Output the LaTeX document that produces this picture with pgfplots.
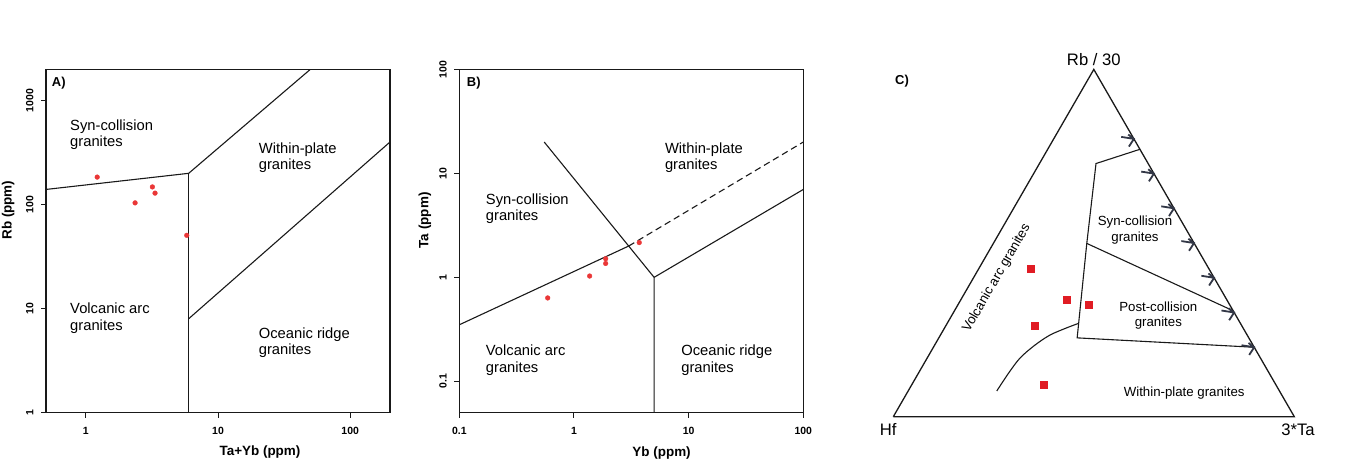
\documentclass[border=0pt]{standalone}
\usepackage{fontspec}
\setmainfont{Liberation Sans}
\usepackage{pgfplots}
\pgfplotsset{compat=1.18}
\definecolor{pt}{RGB}{234,55,55}
\definecolor{ptc}{RGB}{224,28,36}
\definecolor{ln}{RGB}{25,25,25}
\definecolor{arr}{RGB}{50,55,70}
\newcommand\reglab{\fontsize{14.8}{16.6}\selectfont}
\newcommand\reglabc{\fontsize{13.3}{15.7}\selectfont}
\newcommand\panlab{\fontsize{13}{15}\selectfont\bfseries}
\pgfdeclareplotmark{tarrow}{%
  \pgfpathmoveto{\pgfpoint{-12.7bp}{2bp}}\pgfpathlineto{\pgfpoint{0bp}{0bp}}%
  \pgfpathmoveto{\pgfpoint{-5.7bp}{4.3bp}}\pgfpathlineto{\pgfpoint{0bp}{0bp}}%
  \pgfpathlineto{\pgfpoint{-5bp}{-7.7bp}}%
  \pgfusepathqstroke}
\pgfplotsset{/pgf/number format/assume math mode=true}
\pgfplotsset{
  diag/.style={
    scale only axis,
    xminorticks=false, yminorticks=false, tick pos=left, tick align=outside,
    major tick length=5bp,
    axis line style={ln, line width=1.3bp},
    every tick/.style={ln, line width=1bp},
    tick label style={font=\fontsize{10.5}{12}\selectfont\bfseries},
    label style={font=\fontsize{13.5}{16}\selectfont\bfseries},
    xticklabel style={inner sep=0pt, anchor=north},
    yticklabel style={inner sep=0pt, rotate=90, anchor=south},
    xticklabel shift=9bp, yticklabel shift=7.4bp,
  },
  reg/.style={ln, line width=1.1bp, no marks},
  dots/.style={only marks, color=pt, mark=*, mark size=2.4bp, mark options={draw=pt, fill=pt, line width=0.3bp}},
}
\begin{document}
\begin{tikzpicture}
\useasboundingbox (0,0) rectangle (1348bp,463bp);
% ---------------- Panel A ----------------
\begin{loglogaxis}[diag, at={(46bp,50.3bp)}, anchor=south west,
  width=344bp, height=343.4bp,
  xmin=0.5, xmax=200, ymin=1, ymax=2000,
  xtick={1,10,100}, xticklabels={1,10,100},
  ytick={1,10,100,1000}, yticklabels={1,10,100,1000},
  xlabel={Ta+Yb (ppm)}, ylabel={Rb (ppm)},
  xlabel style={at={(axis description cs:0.622,-0.114)}, anchor=center},
  ylabel style={at={(axis description cs:-0.11,0.59)}, anchor=center},
]
\addplot[reg] coordinates {(0.5,140) (6,200) (50,2000)};
\addplot[reg] coordinates {(6,1) (6,200)};
\addplot[reg] coordinates {(6,8) (200,400)};
\addplot[dots] coordinates {(1.22,184) (2.36,104) (3.19,148) (3.34,129) (5.8,50.7)};
\node[anchor=west, align=left, inner sep=0pt, font=\reglab] at (axis cs:0.76,470) {Syn-collision\\granites};
\node[anchor=west, align=left, inner sep=0pt, font=\reglab] at (axis cs:20.3,284) {Within-plate\\granites};
\node[anchor=west, align=left, inner sep=0pt, font=\reglab] at (axis cs:0.76,8.1) {Volcanic arc\\granites};
\node[anchor=west, align=left, inner sep=0pt, font=\reglab] at (axis cs:20.3,4.7) {Oceanic ridge\\granites};
\node[anchor=north west, inner sep=0pt, font=\panlab] at (axis description cs:0.0166,0.978) {A)};
\end{loglogaxis}
% ---------------- Panel B ----------------
\begin{loglogaxis}[diag, at={(459.3bp,50.3bp)}, anchor=south west,
  width=344bp, height=343.4bp,
  xmin=0.1, xmax=100, ymin=0.05, ymax=100,
  xtick={0.1,1,10,100}, xticklabels={0.1,1,10,100},
  ytick={0.1,1,10,100}, yticklabels={0.1,1,10,100},
  xlabel={Yb (ppm)}, ylabel={Ta (ppm)},
  xlabel style={at={(axis description cs:0.588,-0.117)}, anchor=center},
  ylabel style={at={(axis description cs:-0.1,0.56)}, anchor=center},
]
\addplot[reg] coordinates {(0.1,0.35) (3,2)};
\addplot[reg, dash pattern=on 6.5bp off 4bp] coordinates {(3,2) (100,20)};
\addplot[reg] coordinates {(0.55,20) (5,1)};
\addplot[reg] coordinates {(5,0.05) (5,1) (100,7)};
\addplot[dots] coordinates {(0.59,0.634) (1.37,1.03) (1.89,1.51) (1.89,1.36) (3.71,2.16)};
\node[anchor=west, align=left, inner sep=0pt, font=\reglab] at (axis cs:0.17,4.55) {Syn-collision\\granites};
\node[anchor=west, align=left, inner sep=0pt, font=\reglab] at (axis cs:6.2,14.1) {Within-plate\\granites};
\node[anchor=west, align=left, inner sep=0pt, font=\reglab] at (axis cs:0.17,0.16) {Volcanic arc\\granites};
\node[anchor=west, align=left, inner sep=0pt, font=\reglab] at (axis cs:8.6,0.16) {Oceanic ridge\\granites};
\node[anchor=north west, inner sep=0pt, font=\panlab] at (axis description cs:0.0216,0.978) {B)};
\end{loglogaxis}
% ---------------- Panel C (ternary Hf - Rb/30 - 3*Ta) ----------------
\begin{axis}[at={(893.3bp,46.3bp)}, anchor=south west, scale only axis,
  width=401bp, height=347.27bp, hide axis, clip=false,
  xmin=0, xmax=1, ymin=0, ymax=0.8660254,
]
\addplot[ln, line width=1.3bp, no marks] table[row sep=\\,
  x expr={(\thisrow{Ta}+0.5*\thisrow{Rb})/100}, y expr={0.8660254*\thisrow{Rb}/100}]
  {Rb Ta\\ 0 0\\ 0 100\\ 100 0\\ 0 0\\};
\addplot[reg] table[row sep=\\,
  x expr={(\thisrow{Ta}+0.5*\thisrow{Rb})/100}, y expr={0.8660254*\thisrow{Rb}/100}]
  {Rb Ta\\ 77 23\\ 72.9 14.1\\ 49.9 23.3\\ 22.7 34.5\\ 20 80\\};
\addplot[reg] table[row sep=\\,
  x expr={(\thisrow{Ta}+0.5*\thisrow{Rb})/100}, y expr={0.8660254*\thisrow{Rb}/100}]
  {Rb Ta\\ 49.9 23.3\\ 30.5 69.5\\};
\addplot[reg, smooth] table[row sep=\\,
  x expr={(\thisrow{Ta}+0.5*\thisrow{Rb})/100}, y expr={0.8660254*\thisrow{Rb}/100}]
  {Rb Ta\\ 26.9 32.8\\ 25.5 30.3\\ 23.5 27.3\\ 20.6 25.0\\ 16.9 23.15\\ 12.3 22.45\\ 7.4 22.1\\};
\addplot[only marks, mark=tarrow, arr, line width=1.8bp] table[row sep=\\,
  x expr={(\thisrow{Ta}+0.5*\thisrow{Rb})/100}, y expr={0.8660254*\thisrow{Rb}/100}]
  {Rb Ta\\ 80 20\\ 70 30\\ 60 40\\ 50 50\\ 40 60\\ 30 70\\ 20 80\\};
\addplot[only marks, color=ptc, mark=square*, mark size=3.5bp, mark options={draw=ptc, fill=ptc, line width=0.3bp}] table[row sep=\\,
  x expr={(\thisrow{Ta}+0.5*\thisrow{Rb})/100}, y expr={0.8660254*\thisrow{Rb}/100}]
  {Hf Rb Ta\\ 44.4 42.7 12.9\\ 40.0 33.6 26.4\\ 35.3 32.2 32.5\\ 51.6 26.1 22.3\\ 57.9 9.1 33.0\\};
\node[font=\fontsize{16.7}{19}\selectfont] at (axis cs:0.5,0.891) {Rb / 30};
\node[font=\fontsize{16.7}{19}\selectfont] at (axis cs:-0.0125,-0.0314) {Hf};
\node[font=\fontsize{16.7}{19}\selectfont] at (axis cs:1.0092,-0.0314) {3*Ta};
\node[anchor=north west, inner sep=0pt, font=\panlab] at (axis cs:0.0042,0.8521) {C)};
\node[rotate=60, font=\reglabc] at (axis cs:0.2579,0.3451) {Volcanic arc granites};
\node[align=center, font=\reglabc] at (axis cs:0.6027,0.4656) {Syn-collision\\granites};
\node[align=center, font=\reglabc] at (axis cs:0.6609,0.2524) {Post-collision\\granites};
\node[font=\reglabc] at (axis cs:0.7254,0.0599) {Within-plate granites};
\end{axis}
\end{tikzpicture}
\end{document}
